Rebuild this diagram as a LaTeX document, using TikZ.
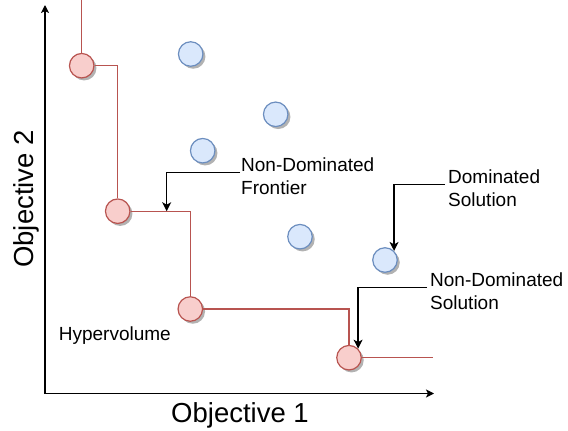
\documentclass[tikz,border=0pt]{standalone}
\usepackage{fontspec}
\setmainfont{Liberation Sans}
\usetikzlibrary{arrows.meta,shadows}
\definecolor{redfill}{HTML}{F8CECC}
\definecolor{redline}{HTML}{B85450}
\definecolor{bluefill}{HTML}{DAE8FC}
\definecolor{blueline}{HTML}{6C8EBF}
\tikzset{
  pt/.style={circle, minimum size=24.5pt, inner sep=0pt, line width=1.2pt,
    drop shadow={shadow xshift=2.5pt, shadow yshift=-2.5pt, fill=black, opacity=0.3}},
  redpt/.style={pt, draw=redline, fill=redfill},
  bluept/.style={pt, draw=blueline, fill=bluefill},
  frontier/.style={draw=redline, line width=1.2pt},
  axisline/.style={draw=black, line width=1.2pt, -{Stealth[length=8pt,width=8pt,inset=2pt]}},
  callout/.style={draw=black, line width=1.2pt, -{Stealth[length=9pt,width=9pt,inset=2.5pt]}},
  lbl/.style={inner sep=0pt, align=left, font=\fontsize{19}{23}\selectfont},
  axlbl/.style={inner sep=0pt, font=\fontsize{27.5}{33}\selectfont}
}
\begin{document}
\begin{tikzpicture}[x=1pt,y=-1pt]
\useasboundingbox (0,0) rectangle (568,431);
% axes
\coordinate (o) at (45,393.5);
\coordinate (ytop) at (45,5);
\coordinate (xend) at (434,393.5);
\draw[axisline] (o) -- (ytop);
\draw[axisline] (o) -- (xend);
% non-dominated points
\node[redpt] (r1) at (81.7,65.7) {};
\node[redpt] (r2) at (117.7,211.2) {};
\node[redpt] (r3) at (190.3,309) {};
\node[redpt] (r4) at (349,357.7) {};
% dominated points
\node[bluept] (b1) at (190.7,54) {};
\node[bluept] (b2) at (275.7,114.3) {};
\node[bluept] (b3) at (202.7,150.7) {};
\node[bluept] (b4) at (300,236.7) {};
\node[bluept] (b5) at (385,260) {};
% frontier
\coordinate (rtop) at (81.7,0);
\coordinate (rend) at (433,357.7);
\draw[frontier] (rtop) -- (r1.north);
\draw[frontier] (r1.east) -| (r2.north);
\draw[frontier] (r2.east) -| (r3.north);
\draw[frontier] (r3.east) -| (r4.north);
\draw[frontier] (r4.east) -- (rend);
% labels (anchor = baseline of the last line)
\node[lbl, anchor=base west] (lf) at (241,194) {Non-Dominated\\Frontier};
\node[lbl, anchor=base west] (ld) at (448,206) {Dominated\\Solution};
\node[lbl, anchor=base west] (ln) at (430,309) {Non-Dominated\\Solution};
\node[lbl, anchor=base west] (lh) at (58.7,340.3) {Hypervolume};
\node[axlbl, anchor=base] (x1) at (240,422.3) {Objective 1};
\node[axlbl, anchor=base, rotate=90] (y2) at (33.5,199) {Objective 2};
% callouts
\coordinate (ft) at (166.7,211.2);
\draw[callout] ([xshift=-1pt,yshift=3pt]lf.west) -| (ft);
\draw[callout] ([xshift=-3pt,yshift=3pt]ld.west) -| (b5.north east);
\draw[callout] ([xshift=-3pt,yshift=3pt]ln.west) -| (r4.north east);
\end{tikzpicture}
\end{document}
